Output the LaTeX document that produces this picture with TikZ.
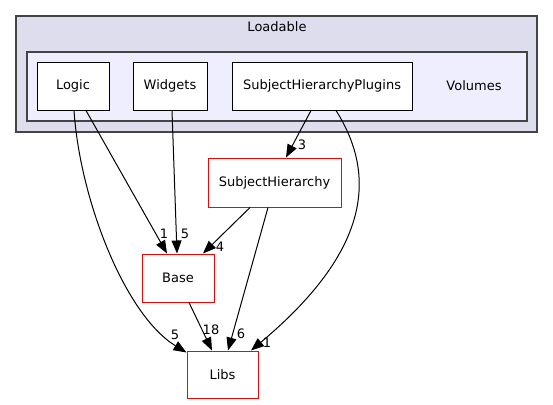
\documentclass[tikz,border=0pt]{standalone}
\usepackage{fontspec}
\setmainfont{DejaVu Sans}
\usetikzlibrary{arrows.meta}
\definecolor{outerfill}{HTML}{DDDDEE}
\definecolor{innerfill}{HTML}{EEEEFF}
\definecolor{clusterline}{HTML}{444444}
\begin{document}
\begin{tikzpicture}[x=1pt,y=-1pt,
  font=\fontsize{13}{15}\selectfont,
  dirbox/.style={draw=black,fill=white,line width=1pt,inner sep=0pt,minimum height=48pt},
  extbox/.style={draw=red,fill=white,line width=1pt,inner sep=0pt,minimum height=48pt},
  cluster/.style={draw=clusterline,line width=1.2pt},
  dep/.style={draw=black,line width=1pt,-{Triangle[length=13pt,width=10pt]}},
  lbl/.style={inner sep=0pt}]
\useasboundingbox (0,0) rectangle (553,404);

% package clusters
\path[cluster,fill=outerfill] (16,16) rectangle (537,132);
\node[lbl] (loadable) at (277,27) {Loadable};
\path[cluster,fill=innerfill] (27,52) rectangle (527,121);
\node[lbl] (volumes) at (474,86) {Volumes};

% directories
\node[dirbox,minimum width=72pt] (logic) at (73,86) {Logic};
\node[dirbox,minimum width=74pt] (widgets) at (170,86) {Widgets};
\node[dirbox,minimum width=180pt] (shp) at (322,86) {SubjectHierarchyPlugins};
\node[extbox,minimum width=133pt,minimum height=49pt] (sh) at (274.5,182.5) {SubjectHierarchy};
\node[extbox,minimum width=72pt] (base) at (178,278) {Base};
\node[extbox,minimum width=71pt,minimum height=47pt] (libs) at (222.5,374.5) {Libs};

% dependencies
\draw[dep] ([xshift=13pt]logic.south) -- ([xshift=-11pt]base.north);
\draw[dep] ([xshift=1pt]logic.south) .. controls (80,200) and (125,315) .. ([yshift=-2pt]libs.north west);
\draw[dep] ([xshift=2pt]widgets.south) -- ([xshift=-1pt]base.north);
\draw[dep] ([xshift=-11pt]shp.south) -- ([xshift=11.5pt]sh.north);
\draw[dep] ([xshift=14pt]shp.south) .. controls (380,180) and (365,255) .. ([xshift=28.5pt]libs.north);
\draw[dep] ([xshift=-24.5pt]sh.south) -- ([xshift=25pt]base.north);
\draw[dep] ([xshift=-6.5pt]sh.south) -- ([xshift=5.5pt]libs.north);
\draw[dep] ([xshift=11pt]base.south) -- ([xshift=-10.5pt]libs.north);

% dependency counts
\node[lbl] (n1) at (164,234) {1};
\node[lbl] (n2) at (185,234) {5};
\node[lbl] (n3) at (302,145) {3};
\node[lbl] (n4) at (220,247) {4};
\node[lbl] (n5) at (211,330) {18};
\node[lbl] (n6) at (241,334) {6};
\node[lbl] (n7) at (267,343) {1};
\node[lbl] (n8) at (175,335) {5};
\end{tikzpicture}
\end{document}
